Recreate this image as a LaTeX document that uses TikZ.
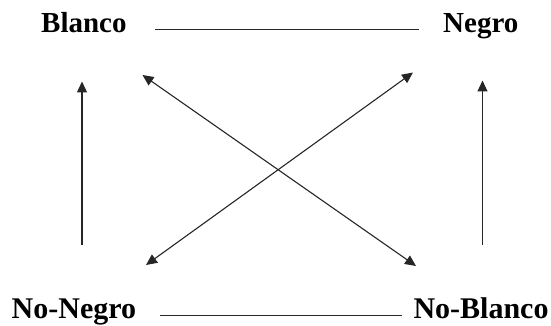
\documentclass[tikz,border=0pt]{standalone}
\usepackage{fontspec}
\setmainfont{Liberation Serif}
\usetikzlibrary{arrows.meta}
\begin{document}
\begin{tikzpicture}[x=1pt,y=-1pt,
  lbl/.style={inner sep=0pt,anchor=base west,font=\bfseries\fontsize{29}{33}\selectfont},
  lblb/.style={lbl,font=\bfseries\fontsize{30}{34}\selectfont},
  conn/.style={line width=1.1pt,black!85},
  tip/.style={},
  arr/.style={conn,-{Triangle[length=11pt,width=10pt]}},
  darr/.style={conn,{Triangle[length=11pt,width=10pt]}-{Triangle[length=11pt,width=10pt]}}]
\useasboundingbox (0,0) rectangle (551,326);
\node[lbl] (B) at (41,32.7) {Blanco};
\node[lbl] (N) at (443,32.7) {Negro};
\node[lblb] (NN) at (11.5,318.3) {No-Negro};
\node[lblb] (NB) at (413.3,318.3) {No-Blanco};
\draw[conn] ([xshift=28pt]B.base east |- 0,29.8) -- ([xshift=-24pt]N.base west |- 0,29.8);
\draw[conn] ([xshift=24pt]NN.base east |- 0,315.7) -- ([xshift=-11pt]NB.base west |- 0,315.7);
\coordinate (l0) at (82,245);
\coordinate (l1) at (82,81.5);
\coordinate (r0) at (482.5,245);
\coordinate (r1) at (482.5,80.5);
\coordinate (d1a) at (142.5,75);
\coordinate (d1b) at (416,266);
\coordinate (d2a) at (413,72.5);
\coordinate (d2b) at (146,265);
\draw[arr] (l0) -- (l1);
\draw[arr] (r0) -- (r1);
\draw[darr] (d1a) -- (d1b);
\draw[darr] (d2a) -- (d2b);
\end{tikzpicture}
\end{document}
